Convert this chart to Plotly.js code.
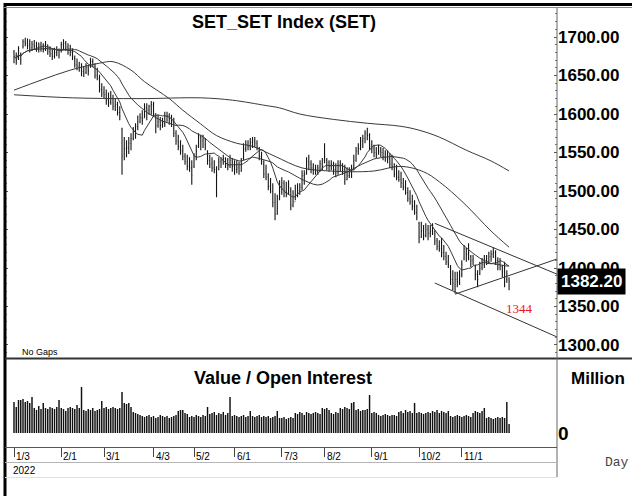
<!DOCTYPE html>
<html><head><meta charset="utf-8">
<script src="https://cdn.plot.ly/plotly-3.0.1.min.js"></script>
<style>html,body{margin:0;padding:0;background:#fff;}#chart{width:632px;height:496px;}</style>
</head><body><div id="chart"></div>
<script>
// ---------------- DATA ----------------
const openP = [
1680,1676,1672,1678,1688,1694,1692,1690,1686,1690,
1688,1685,1690,1687,1684,1690,1681,1678,1675,1680,
1683,1682,1690,1692,1687,1684,1680,1672,1664,1662,
1660,1655,1654,1660,1662,1668,1662,1650,1646,1632,
1628,1625,1618,1615,1620,1610,1612,1602,1580,1548,
1555,1556,1562,1568,1578,1584,1590,1595,1595,1608,
1605,1610,1612,1600,1585,1590,1585,1588,1597,1598,
1594,1590,1575,1565,1558,1552,1545,1538,1532,1530,
1532,1545,1558,1570,1565,1568,1552,1540,1535,1530,
1528,1528,1538,1540,1542,1535,1533,1540,1532,1528,
1530,1526,1542,1555,1560,1558,1563,1565,1562,1555,
1545,1535,1522,1518,1506,1500,1485,1470,1490,1505,
1510,1500,1498,1500,1482,1486,1495,1500,1505,1520,
1522,1538,1535,1530,1528,1526,1530,1535,1540,1540,
1537,1532,1535,1528,1525,1532,1535,1528,1515,1520,
1525,1530,1540,1552,1555,1565,1568,1575,1572,1560,
1555,1550,1548,1552,1550,1545,1548,1542,1535,1532,
1522,1518,1515,1510,1505,1498,1490,1486,1480,1472,
1458,1440,1448,1442,1450,1445,1448,1448,1435,1428,
1425,1420,1415,1408,1400,1385,1378,1385,1382,1392,
1412,1425,1418,1415,1410,1402,1392,1392,1400,1405,
1410,1408,1415,1418,1420,1410,1405,1402,1400,1385,
1386];
const highP = [
1683,1680,1688,1680,1697,1699,1698,1697,1695,1696,
1694,1693,1694,1692,1695,1690,1688,1684,1686,1688,
1685,1694,1697,1695,1692,1690,1685,1676,1672,1668,
1666,1662,1666,1664,1673,1672,1666,1660,1651,1640,
1636,1632,1628,1630,1625,1620,1616,1610,1582,1570,
1566,1570,1575,1583,1588,1598,1601,1605,1614,1614,
1612,1617,1616,1601,1599,1596,1595,1603,1603,1601,
1599,1595,1579,1573,1566,1560,1549,1547,1544,1540,
1549,1560,1575,1573,1573,1569,1553,1547,1544,1540,
1532,1544,1544,1547,1544,1543,1547,1543,1540,1540,
1538,1543,1562,1566,1566,1569,1570,1570,1566,1557,
1551,1540,1534,1523,1517,1510,1497,1495,1514,1518,
1514,1512,1514,1505,1501,1508,1510,1510,1527,1527,
1544,1547,1540,1536,1534,1534,1540,1543,1562,1543,
1540,1540,1538,1536,1540,1540,1536,1534,1531,1531,
1534,1547,1557,1562,1570,1573,1579,1582,1575,1566,
1560,1557,1560,1557,1556,1553,1553,1549,1547,1536,
1534,1527,1525,1517,1514,1505,1501,1495,1488,1482,
1460,1460,1456,1458,1456,1456,1458,1449,1439,1436,
1439,1430,1421,1417,1404,1397,1395,1395,1397,1410,
1430,1426,1432,1417,1417,1404,1397,1408,1413,1417,
1417,1421,1423,1427,1423,1414,1413,1404,1408,1397,
1388];
const lowP = [
1666,1664,1670,1664,1685,1688,1684,1680,1682,1683,
1681,1680,1681,1680,1682,1677,1674,1670,1672,1675,
1672,1680,1684,1682,1677,1675,1670,1660,1657,1655,
1649,1648,1652,1650,1660,1661,1646,1644,1628,1622,
1620,1612,1609,1612,1605,1604,1598,1592,1521,1540,
1544,1548,1553,1566,1568,1579,1588,1586,1595,1592,
1599,1599,1596,1575,1582,1579,1582,1583,1590,1586,
1583,1570,1560,1553,1547,1540,1534,1527,1525,1508,
1530,1540,1556,1553,1556,1553,1534,1530,1525,1523,
1492,1527,1530,1534,1530,1527,1530,1525,1521,1523,
1521,1525,1540,1551,1553,1553,1556,1557,1553,1540,
1534,1517,1514,1501,1497,1479,1462,1469,1488,1495,
1492,1492,1495,1475,1479,1488,1492,1495,1501,1508,
1521,1527,1523,1521,1521,1521,1525,1527,1536,1527,
1525,1527,1521,1518,1521,1525,1521,1508,1514,1517,
1517,1527,1538,1547,1553,1556,1562,1566,1553,1549,
1544,1543,1547,1544,1540,1538,1536,1530,1527,1518,
1514,1512,1504,1501,1495,1486,1482,1475,1469,1462,
1432,1439,1436,1440,1436,1440,1443,1430,1423,1421,
1414,1410,1404,1400,1378,1371,1367,1375,1378,1388,
1410,1408,1410,1401,1404,1384,1375,1391,1397,1400,
1404,1406,1408,1413,1404,1397,1397,1388,1375,1381,
1371];
const closeP = [
1675,1670,1685,1670,1694,1692,1689,1686,1690,1688,
1685,1690,1687,1684,1691,1681,1678,1675,1680,1683,
1677,1690,1692,1687,1684,1680,1674,1664,1662,1660,
1655,1652,1660,1656,1668,1664,1650,1648,1632,1626,
1625,1618,1615,1620,1610,1612,1602,1597,1545,1555,
1556,1562,1568,1578,1584,1590,1595,1592,1608,1605,
1610,1612,1600,1585,1590,1585,1588,1597,1598,1594,
1590,1575,1565,1558,1552,1545,1538,1532,1530,1520,
1545,1552,1570,1565,1568,1560,1540,1535,1530,1528,
1520,1538,1540,1542,1535,1533,1540,1532,1528,1530,
1526,1535,1555,1560,1558,1563,1565,1562,1557,1545,
1538,1522,1518,1506,1500,1485,1470,1478,1505,1510,
1500,1498,1505,1482,1486,1495,1500,1505,1520,1522,
1538,1535,1530,1528,1526,1530,1535,1532,1545,1537,
1532,1535,1528,1525,1532,1535,1528,1515,1520,1525,
1528,1540,1552,1555,1565,1568,1575,1572,1558,1555,
1550,1548,1552,1550,1545,1548,1542,1535,1532,1522,
1518,1515,1510,1505,1498,1490,1486,1480,1472,1466,
1440,1448,1442,1450,1445,1448,1452,1435,1428,1425,
1420,1415,1408,1405,1385,1380,1385,1382,1390,1405,
1425,1418,1420,1410,1412,1392,1385,1400,1405,1410,
1408,1415,1418,1420,1410,1405,1402,1395,1382,1392,
1382.2];
// traded value (million)
const valueM = [
62000,52000,66000,66000,68000,62000,64000,60000,72000,50000,
46000,54000,48000,60000,50000,48000,52000,50000,48000,52000,
66000,50000,48000,44000,50000,52000,50000,48000,56000,50000,
92000,46000,44000,48000,46000,50000,44000,46000,48000,64000,
50000,52000,48000,50000,52000,50000,48000,50000,82000,60000,
58000,60000,52000,42000,40000,38000,36000,34000,32000,34000,
36000,32000,34000,30000,32000,36000,34000,32000,34000,30000,
32000,34000,36000,44000,46000,46000,40000,38000,32000,34000,
32000,36000,34000,32000,36000,34000,52000,38000,40000,42000,
36000,40000,38000,42000,36000,40000,72000,34000,36000,34000,
32000,34000,36000,32000,34000,44000,34000,32000,34000,36000,
32000,34000,32000,34000,30000,32000,34000,44000,30000,30000,
32000,28000,30000,32000,30000,40000,38000,42000,40000,36000,
42000,40000,38000,40000,42000,40000,38000,50000,48000,50000,
46000,40000,38000,42000,40000,50000,48000,52000,50000,48000,
60000,62000,46000,48000,44000,46000,46000,48000,76000,40000,
42000,40000,36000,34000,36000,38000,36000,34000,36000,36000,
34000,42000,44000,40000,46000,42000,44000,40000,60000,40000,
42000,40000,38000,40000,42000,40000,44000,42000,46000,40000,
44000,42000,40000,44000,34000,32000,34000,36000,34000,32000,
34000,36000,34000,32000,40000,44000,42000,40000,44000,50000,
30000,32000,30000,28000,30000,32000,30000,32000,30000,62000,
18000];
// long moving averages (bar index, value)
const ma50Idx = [0,12,25,38,44,52,58,69,75,83,90,99,106,116,128,140,150,160,172,182,189,200,212,220];
const ma50Val = [1631,1644,1657,1666,1668,1657,1642,1620,1605,1587,1572,1562,1558,1545,1530,1526,1525,1526,1532,1525,1512,1484,1448,1427];
const ma200Idx = [0,26,56,83,97,112,118,127,142,157,172,180,189,201,212,220];
const ma200Val = [1625,1621,1620,1621,1618,1611,1608,1600,1593,1588,1584,1579,1570,1553,1539,1526];
// trend lines (bar index, price)
const trendUpIdx = [187, 241.3], trendUpVal = [1458, 1392];
const trendLowIdx = [187, 241.3], trendLowVal = [1380.5, 1310.4];
const trendRiseIdx = [196, 241.3], trendRiseVal = [1366, 1411.7];
// axis labels
const priceTicks = [1300,1350,1400,1450,1500,1550,1600,1650,1700];
const dateTickIdx = [0,21,40,62,80,98,119,138,159,180,199];
const dateTickLbl = ['1/3','2/1','3/1','4/3','5/2','6/1','7/3','8/2','9/1','10/2','11/1'];
const lastClose = 1382.20;
const noteText = '1344';

// ---------------- BUILD ----------------
const idx = closeP.map((_, i) => i);
function sma(a, n) {
  return a.map((_, i) => { const s = Math.max(0, i - n + 1); let t = 0; for (let k = s; k <= i; k++) t += a[k]; return t / (i - s + 1); });
}
const ma10 = sma(closeP, 10), ma25 = sma(closeP, 25);

const W = 632, H = 496;
const px = x => x / W, py = y => 1 - y / H;
const SANS = "'Liberation Sans', Arial, sans-serif";
const lineCol = '#3a3a3a';

const traces = [
  {type:'ohlc', x: idx, open: openP, high: highP, low: lowP, close: closeP, xaxis:'x', yaxis:'y',
   increasing:{line:{color:'#151515', width:1.1}}, decreasing:{line:{color:'#151515', width:1.1}}, tickwidth:0.3, hoverinfo:'skip'},
  {type:'scatter', mode:'lines', x: idx, y: ma10, line:{color:lineCol, width:1}, hoverinfo:'skip'},
  {type:'scatter', mode:'lines', x: idx, y: ma25, line:{color:lineCol, width:1}, hoverinfo:'skip'},
  {type:'scatter', mode:'lines', x: ma50Idx, y: ma50Val, line:{color:lineCol, width:1, shape:'spline', smoothing:1}, hoverinfo:'skip'},
  {type:'scatter', mode:'lines', x: ma200Idx, y: ma200Val, line:{color:lineCol, width:1, shape:'spline', smoothing:1}, hoverinfo:'skip'},
  {type:'scatter', mode:'lines', x: trendUpIdx, y: trendUpVal, line:{color:'#333', width:1}, hoverinfo:'skip'},
  {type:'scatter', mode:'lines', x: trendLowIdx, y: trendLowVal, line:{color:'#333', width:1}, hoverinfo:'skip'},
  {type:'scatter', mode:'lines', x: trendRiseIdx, y: trendRiseVal, line:{color:'#333', width:1}, hoverinfo:'skip'},
  {type:'bar', x: idx, y: valueM, xaxis:'x2', yaxis:'y2', marker:{color:'#111', line:{width:0}}, hoverinfo:'skip'}
];

const xr = [-4, 241.3];
const annotations = [
  {text:'SET_SET Index (SET)', xref:'paper', yref:'paper', x:px(284), y:py(22), xanchor:'center', yanchor:'middle', showarrow:false,
   font:{family:SANS, size:18, color:'#000', weight:'bold'}},
  {text:'Value / Open Interest', xref:'paper', yref:'paper', x:px(283), y:py(378), xanchor:'center', yanchor:'middle', showarrow:false,
   font:{family:SANS, size:18, color:'#000', weight:'bold'}},
  {text:'Million', xref:'paper', yref:'paper', x:px(598), y:py(378), xanchor:'center', yanchor:'middle', showarrow:false,
   font:{family:SANS, size:17, color:'#000', weight:'bold'}},
  {text:'Day', xref:'paper', yref:'paper', x:px(617), y:py(462), xanchor:'center', yanchor:'middle', showarrow:false,
   font:{family:"'Liberation Mono', 'DejaVu Sans Mono', monospace", size:13, color:'#444'}},
  {text:'No Gaps', xref:'paper', yref:'paper', x:px(20), y:py(352), xanchor:'left', yanchor:'middle', showarrow:false,
   font:{family:SANS, size:9, color:'#000'}},
  {text:'2022', xref:'paper', yref:'paper', x:px(11), y:py(470), xanchor:'left', yanchor:'middle', showarrow:false,
   font:{family:SANS, size:10, color:'#000'}},
  {text:noteText, xref:'x', yref:'y', x:224.5, y:1347.5, xanchor:'center', yanchor:'middle', showarrow:false,
   font:{family:"'Liberation Serif', 'DejaVu Serif', serif", size:13, color:'#e8141c'}},
  {text:lastClose.toFixed(2), xref:'paper', yref:'y', x:px(557), y:lastClose, xanchor:'left', yanchor:'middle', showarrow:false,
   bgcolor:'#000', borderpad:3, font:{family:SANS, size:17, color:'#fff', weight:'bold'}}
];
dateTickIdx.forEach((v, k) => annotations.push({text: dateTickLbl[k], xref:'x2', yref:'paper', x:v, y:py(456), xanchor:'left', yanchor:'middle',
  xshift:0, showarrow:false, font:{family:SANS, size:10, color:'#000'}}));

const shapes = [
  {type:'line', xref:'paper', yref:'paper', x0:px(5), x1:px(5), y0:py(3), y1:0, line:{color:'#000', width:3}},
  {type:'line', xref:'paper', yref:'paper', x0:px(4), x1:1, y0:py(4.5), y1:py(4.5), line:{color:'#000', width:3}},
  {type:'line', xref:'paper', yref:'paper', x0:px(4), x1:1, y0:py(7.5), y1:py(7.5), line:{color:'#8a8a8a', width:1}},
  {type:'line', xref:'paper', yref:'paper', x0:px(5), x1:1, y0:py(358.5), y1:py(358.5), line:{color:'#333', width:2}},
  {type:'line', xref:'paper', yref:'paper', x0:px(557), x1:px(557), y0:py(8), y1:py(477), line:{color:'#666', width:1}},
  {type:'line', xref:'paper', yref:'paper', x0:px(5), x1:px(557), y0:py(447.5), y1:py(447.5), line:{color:'#555', width:1}},
  {type:'line', xref:'paper', yref:'paper', x0:px(5), x1:px(557), y0:py(462.5), y1:py(462.5), line:{color:'#b5b5b5', width:1}},
  {type:'line', xref:'paper', yref:'paper', x0:px(5), x1:px(557), y0:py(477.5), y1:py(477.5), line:{color:'#e2e2e2', width:1}}
];

const layout = {
  width: W, height: H, margin:{l:0, r:0, t:0, b:0, pad:0},
  paper_bgcolor:'#fff', plot_bgcolor:'#fff', showlegend:false, bargap:0.35,
  xaxis:{domain:[px(5), px(557)], range:xr, anchor:'y', showticklabels:false, showgrid:false, zeroline:false, showline:false, ticks:'',
         rangeslider:{visible:false}, fixedrange:true},
  yaxis:{domain:[py(358), py(8)], range:[1283.1, 1737.7], side:'right', anchor:'x', tickvals:priceTicks,
         ticktext:priceTicks.map(v => v.toFixed(2)), showgrid:false, zeroline:false, showline:false,
         ticks:'inside', ticklen:3, tickcolor:'#555', mirror:'ticks',
         minor:{dtick:10, ticks:'inside', ticklen:2, tickcolor:'#777'},
         tickfont:{family:SANS, size:17, color:'#000', weight:'bold'}, fixedrange:true},
  xaxis2:{domain:[px(5), px(557)], range:xr, anchor:'y2', tickvals:dateTickIdx, showticklabels:false, showgrid:false,
          zeroline:false, showline:false, ticks:'outside', ticklen:9, tickcolor:'#444', tickwidth:1, fixedrange:true},
  yaxis2:{domain:[py(447), py(362)], range:[-28000, 142000], side:'right', anchor:'x2', tickvals:[0], ticktext:['0'],
          showgrid:false, zeroline:false, showline:false, ticks:'',
          tickfont:{family:SANS, size:19, color:'#000', weight:'bold'}, fixedrange:true},
  annotations, shapes
};
Plotly.newPlot('chart', traces, layout, {staticPlot:true, displayModeBar:false});
</script></body></html>
